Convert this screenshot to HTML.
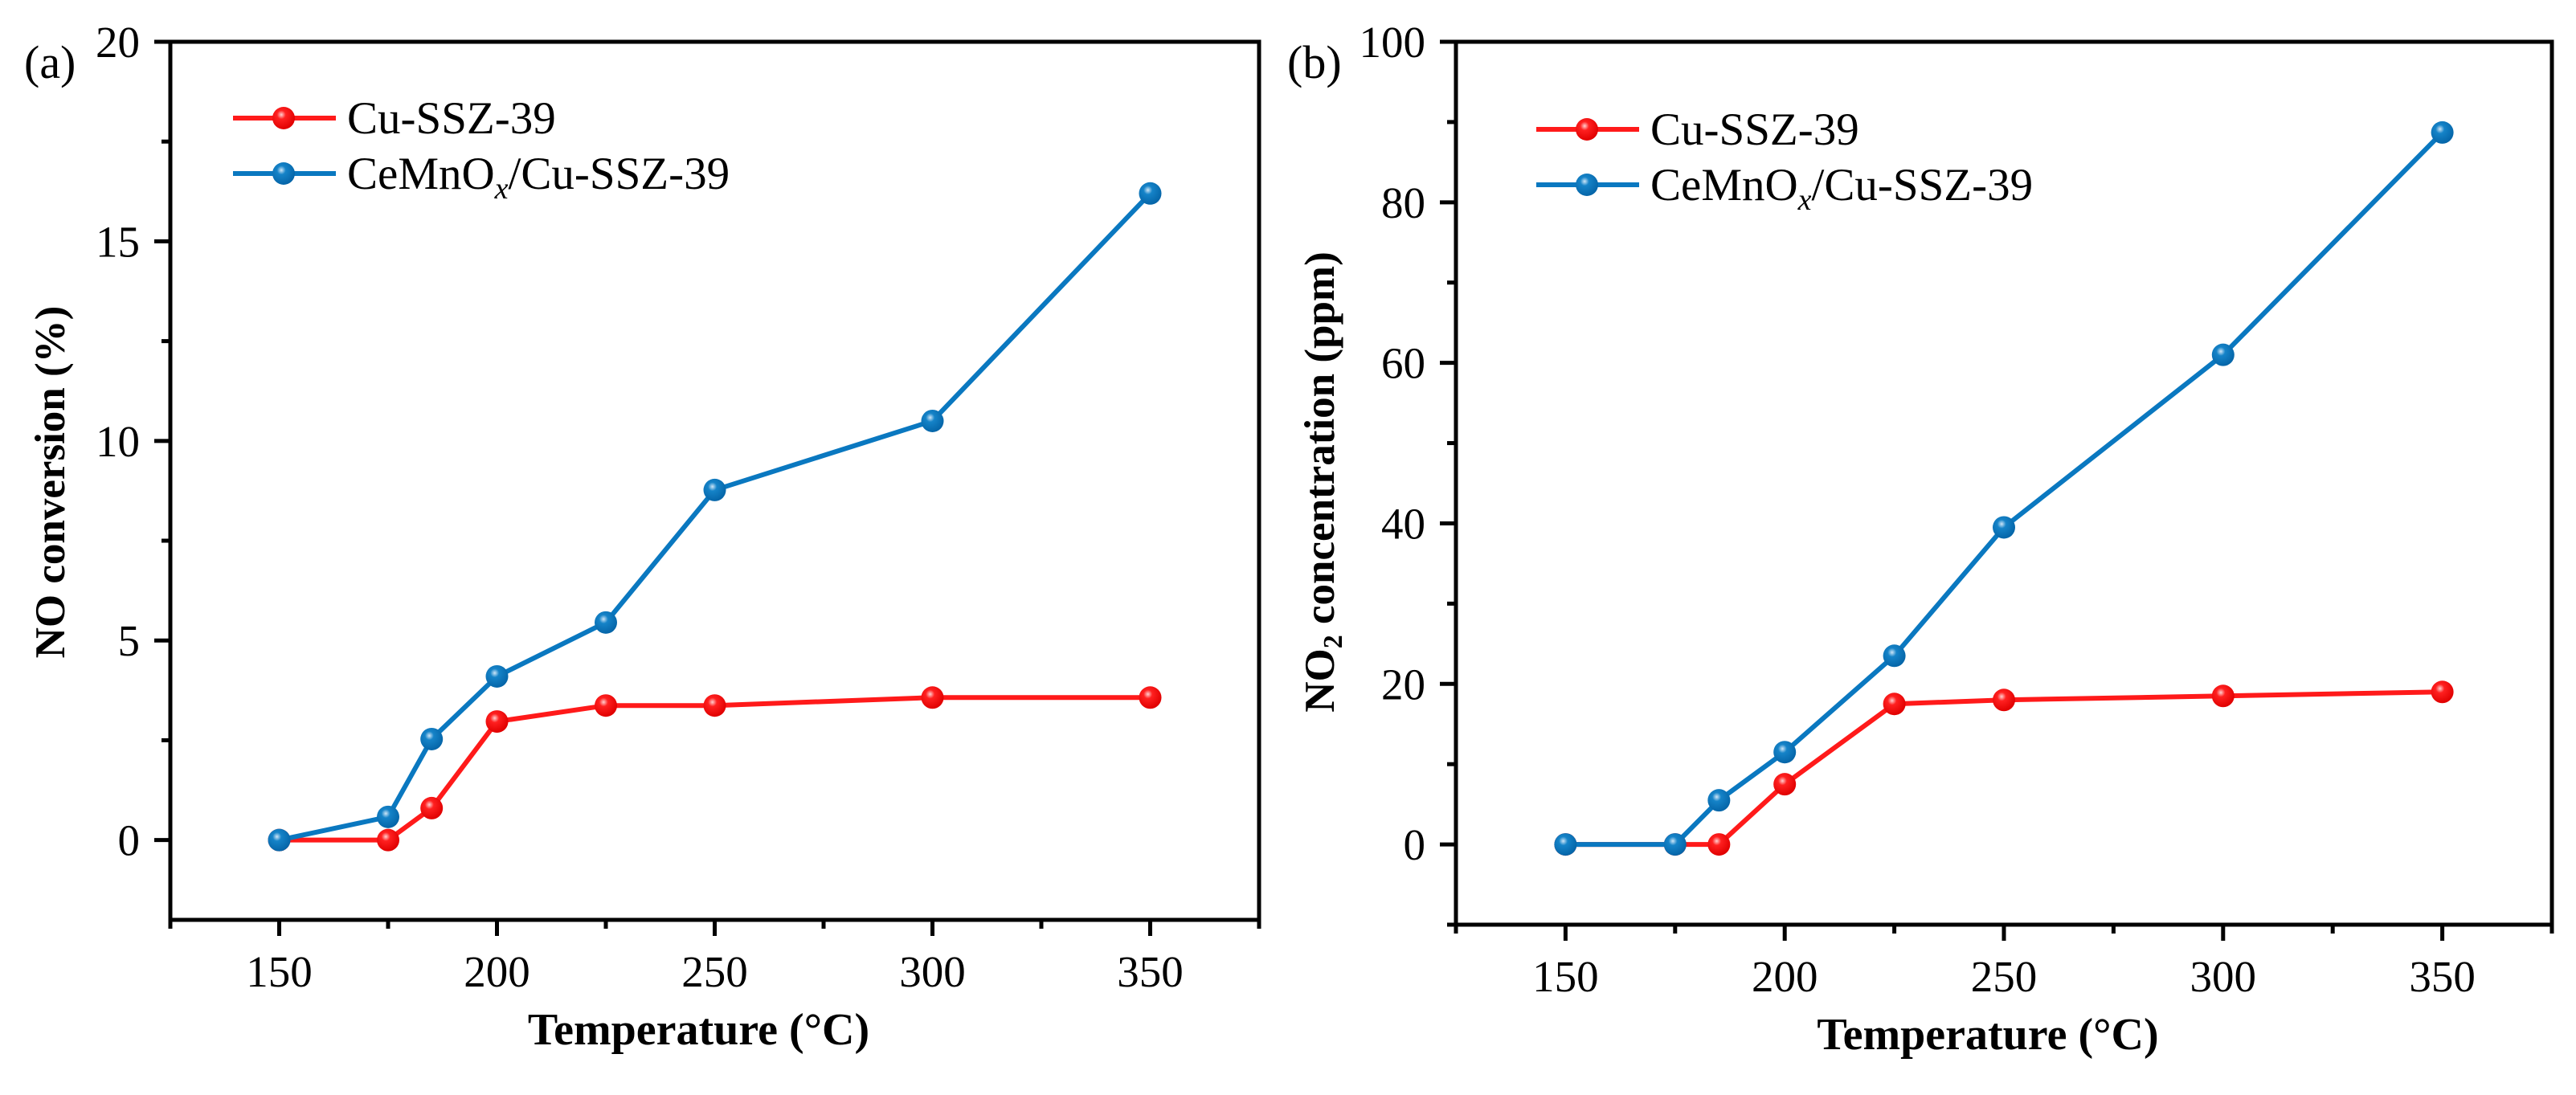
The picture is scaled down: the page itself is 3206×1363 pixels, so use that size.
<!DOCTYPE html>
<html><head><meta charset="utf-8">
<style>
html,body{margin:0;padding:0;background:#fff;}
svg{display:block;font-family:"Liberation Serif",serif;}
</style></head>
<body>
<svg id="chart" width="3206" height="1363" viewBox="0 0 3206 1363" xmlns="http://www.w3.org/2000/svg">
<defs>
<radialGradient id="gr" cx="0.4" cy="0.35" r="0.65"><stop offset="0" stop-color="#ffd0d0"/><stop offset="0.3" stop-color="#ff2020"/><stop offset="1" stop-color="#e00000"/></radialGradient>
<radialGradient id="gb" cx="0.4" cy="0.35" r="0.65"><stop offset="0" stop-color="#cfe6f7"/><stop offset="0.3" stop-color="#1583c8"/><stop offset="1" stop-color="#0565a8"/></radialGradient>
</defs>
</svg>
<script>
const temps = [150, 175, 185, 200, 225, 250, 300, 350];
const convCu = [0, 0, 0.8, 2.97, 3.37, 3.37, 3.57, 3.57];
const convCe = [0, 0.58, 2.53, 4.1, 5.45, 8.77, 10.5, 16.2];
const no2Cu = [0, 0, 0, 7.5, 17.5, 18, 18.5, 19];
const no2Ce = [0, 0, 5.5, 11.5, 23.5, 39.5, 61, 88.7];
const xTicks = [150, 200, 250, 300, 350];
const xMinor = [125, 175, 225, 275, 325, 375];
const yTicksA = [0, 5, 10, 15, 20];
const yMinorA = [2.5, 7.5, 12.5, 17.5];
const yTicksB = [0, 20, 40, 60, 80, 100];
const yMinorB = [-10, 10, 30, 50, 70, 90];

const svg = document.getElementById('chart');
const NS = 'http://www.w3.org/2000/svg';
function mk(tag, attrs, parent, text){
  const e = document.createElementNS(NS, tag);
  for (const k in attrs) e.setAttribute(k, attrs[k]);
  if (text !== undefined) e.textContent = text;
  (parent || svg).appendChild(e);
  return e;
}

function panel(cfg){
  const g = mk('g', {});
  
  
  const sx = v => cfg.L + (v - 125) / 250 * (cfg.R - cfg.L);
  const sy = v => cfg.B - (v - cfg.ymin) / (cfg.ymax - cfg.ymin) * (cfg.B - cfg.T);
  const fr = mk('rect', {x: cfg.L, y: cfg.T, width: cfg.R - cfg.L, height: cfg.B - cfg.T, fill: 'none', stroke: '#000', 'stroke-width': 5}, g);
  
  
  xTicks.forEach(v => {
    const t = mk('line', {x1: sx(v), x2: sx(v), y1: cfg.B, y2: cfg.B + 20, stroke: '#000', 'stroke-width': 5}, g);
    
    
    const l = mk('text', {x: sx(v), y: cfg.B + 83, 'font-size': 55, 'text-anchor': 'middle'}, g, String(v));
    
    
  });
  xMinor.forEach(v => {
    const t = mk('line', {x1: sx(v), x2: sx(v), y1: cfg.B, y2: cfg.B + 11, stroke: '#000', 'stroke-width': 5}, g);
    
    
  });
  cfg.yt.forEach(v => {
    const t = mk('line', {x1: cfg.L - 20, x2: cfg.L, y1: sy(v), y2: sy(v), stroke: '#000', 'stroke-width': 5}, g);
    
    
    const l = mk('text', {x: cfg.L - 38, y: sy(v) + 19, 'font-size': 55, 'text-anchor': 'end'}, g, String(v));
    
    
  });
  cfg.ym.forEach(v => {
    const t = mk('line', {x1: cfg.L - 11, x2: cfg.L, y1: sy(v), y2: sy(v), stroke: '#000', 'stroke-width': 5}, g);
    
    
  });
  const xt = mk('text', {x: (cfg.L + cfg.R) / 2 - 20, y: cfg.B + 155, 'font-size': 56, 'font-weight': 'bold', 'text-anchor': 'middle'}, g, 'Temperature (°C)');
  
  
  const yt = mk('text', {x: 0, y: 0, 'font-size': 53, 'font-weight': 'bold', 'text-anchor': 'middle', transform: `translate(${cfg.ytx},${cfg.yty}) rotate(-90)`}, g);
  
  
  if (cfg.sub) {
    mk('tspan', {}, yt, 'NO');
    mk('tspan', {'font-size': 34, dy: 10}, yt, '2');
    mk('tspan', {dy: -10}, yt, ' concentration (ppm)');
  } else {
    yt.textContent = 'NO conversion (%)';
  }
  const pl = mk('text', {x: cfg.lx, y: 97, 'font-size': 58}, g, cfg.label);
  
  
  const series = [[cfg.cu, '#ff1a1a', 'url(#gr)', 'series-cu-ssz-39'], [cfg.ce, '#0a78c0', 'url(#gb)', 'series-cemnox-cu-ssz-39']];
  series.forEach(([vals, col, grad, nm]) => {
    const sg = mk('g', {}, g);
    
    
    const pts = temps.map((t, i) => sx(t) + ',' + sy(vals[i])).join(' ');
    const pln = mk('polyline', {points: pts, fill: 'none', stroke: col, 'stroke-width': 6, 'stroke-linejoin': 'round'}, sg);
    
    
    temps.forEach((t, i) => {
      const c = mk('circle', {cx: sx(t), cy: sy(vals[i]), r: 14, fill: grad}, sg);
      
      
    });
  });
  const lg = mk('g', {}, g);
  
  
  [[cfg.ly1, '#ff1a1a', 'url(#gr)', 'Cu-SSZ-39'], [cfg.ly2, '#0a78c0', 'url(#gb)', null]].forEach(([y, col, grad, txt]) => {
    const e = mk('g', {}, lg);
    
    
    mk('line', {x1: cfg.lgx, x2: cfg.lgx + 128, y1: y, y2: y, stroke: col, 'stroke-width': 6}, e);
    mk('circle', {cx: cfg.lgx + 63, cy: y, r: 14, fill: grad}, e);
    const tx = mk('text', {x: cfg.lgx + 142, y: y + 19, 'font-size': 57}, e);
    if (txt) tx.textContent = txt;
    else {
      mk('tspan', {}, tx, 'CeMnO');
      mk('tspan', {'font-size': 38, 'font-style': 'italic', dy: 12}, tx, 'x');
      mk('tspan', {dy: -12}, tx, '/Cu-SSZ-39');
    }
  });
}

panel({name: 'panel-a-no-conversion', L: 212, R: 1567, T: 52, B: 1145, ymin: -2, ymax: 20, yt: yTicksA, ym: yMinorA,
  cu: convCu, ce: convCe, ytx: 80, yty: 600, sub: false, label: '(a)', lx: 30, lgx: 290, ly1: 147, ly2: 216});
panel({name: 'panel-b-no2-concentration', L: 1812, R: 3176, T: 52, B: 1151, ymin: -10, ymax: 100, yt: yTicksB, ym: yMinorB,
  cu: no2Cu, ce: no2Ce, ytx: 1660, yty: 600, sub: true, label: '(b)', lx: 1602, lgx: 1912, ly1: 161, ly2: 230});
</script>
</body></html>
